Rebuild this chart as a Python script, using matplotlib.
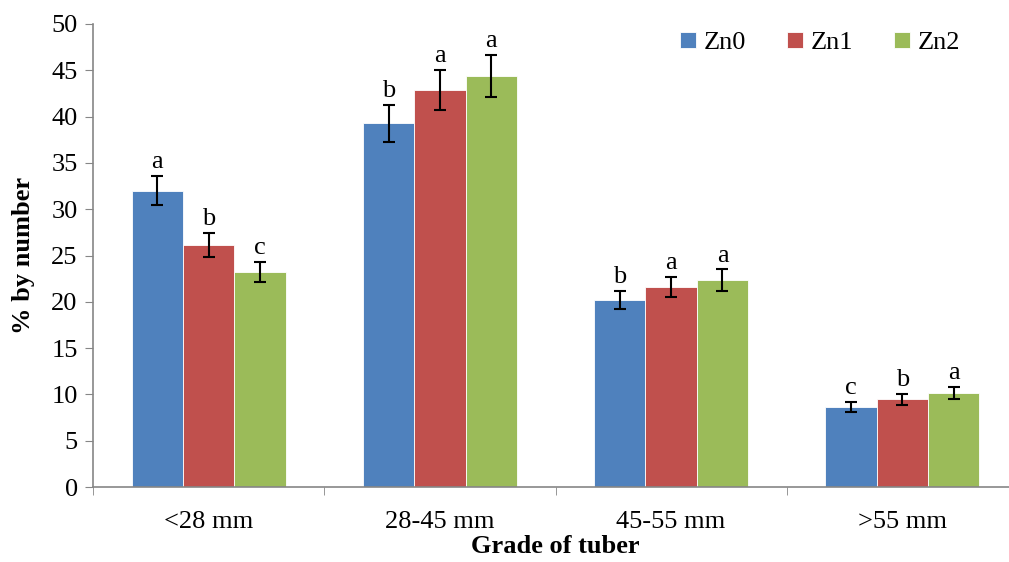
import matplotlib
matplotlib.use("Agg")
import matplotlib.pyplot as plt
import numpy as np

categories = ["<28 mm", "28-45 mm", "45-55 mm", ">55 mm"]
series = ["Zn0", "Zn1", "Zn2"]
values = {
    "Zn0": [32.0, 39.3, 20.2, 8.65],
    "Zn1": [26.1, 42.9, 21.6, 9.45],
    "Zn2": [23.2, 44.4, 22.35, 10.15],
}
errors = {
    "Zn0": [1.6, 2.0, 1.0, 0.5],
    "Zn1": [1.3, 2.15, 1.1, 0.6],
    "Zn2": [1.1, 2.25, 1.15, 0.65],
}
letters = {
    "Zn0": ["a", "b", "b", "c"],
    "Zn1": ["b", "a", "a", "b"],
    "Zn2": ["c", "a", "a", "a"],
}
colors = {"Zn0": "#4F81BD", "Zn1": "#C0504D", "Zn2": "#9BBB59"}
yticks = [0, 5, 10, 15, 20, 25, 30, 35, 40, 45, 50]

plt.rcParams["font.family"] = ["Liberation Serif", "DejaVu Serif"]

fig = plt.figure(figsize=(10.09, 5.62), dpi=100)
ax = fig.add_axes([93/1009, 1-487/562, 925/1009, (487-24)/562])

x = np.arange(len(categories))
w = 0.222
for i, s in enumerate(series):
    pos = x + (i - 1) * w
    ax.bar(pos, values[s], w, color=colors[s], edgecolor="white", linewidth=0.6,
           label=s, zorder=2)
    ax.errorbar(pos, values[s], yerr=errors[s], fmt="none", ecolor="black",
                elinewidth=1.5, capsize=4.5, capthick=1.5, zorder=3)
    for p, v, e, l in zip(pos, values[s], errors[s], letters[s]):
        ax.text(p, v + e + 0.3, l, ha="center", va="bottom", fontsize=19)

ax.set_xlim(-0.5, len(categories) - 0.5)
ax.set_ylim(0, 50)
ax.set_yticks(yticks)
ax.set_xticks(x)
ax.set_xticklabels(categories, fontsize=19)
ax.tick_params(axis="y", labelsize=19, direction="out", length=6, color="#868686", pad=5)
ax.tick_params(axis="x", length=0, pad=17)
ax.set_xticks(np.arange(len(categories) + 1) - 0.5, minor=True)
ax.tick_params(axis="x", which="minor", length=6, direction="out", color="#868686")
for sp in ["top", "right"]:
    ax.spines[sp].set_visible(False)
for sp in ["left", "bottom"]:
    ax.spines[sp].set_color("#868686")
    ax.spines[sp].set_linewidth(1.2)

ax.set_ylabel("% by number", fontsize=19, fontweight="bold", labelpad=12)
ax.set_xlabel("Grade of tuber", fontsize=19, fontweight="bold", labelpad=2)

ax.legend(loc="upper left", bbox_to_anchor=(563/925, 1.035), ncol=3, frameon=False,
          fontsize=19, handlelength=0.6, handleheight=0.6, columnspacing=1.55,
          handletextpad=0.3)

fig.savefig("out.png", dpi=100)
